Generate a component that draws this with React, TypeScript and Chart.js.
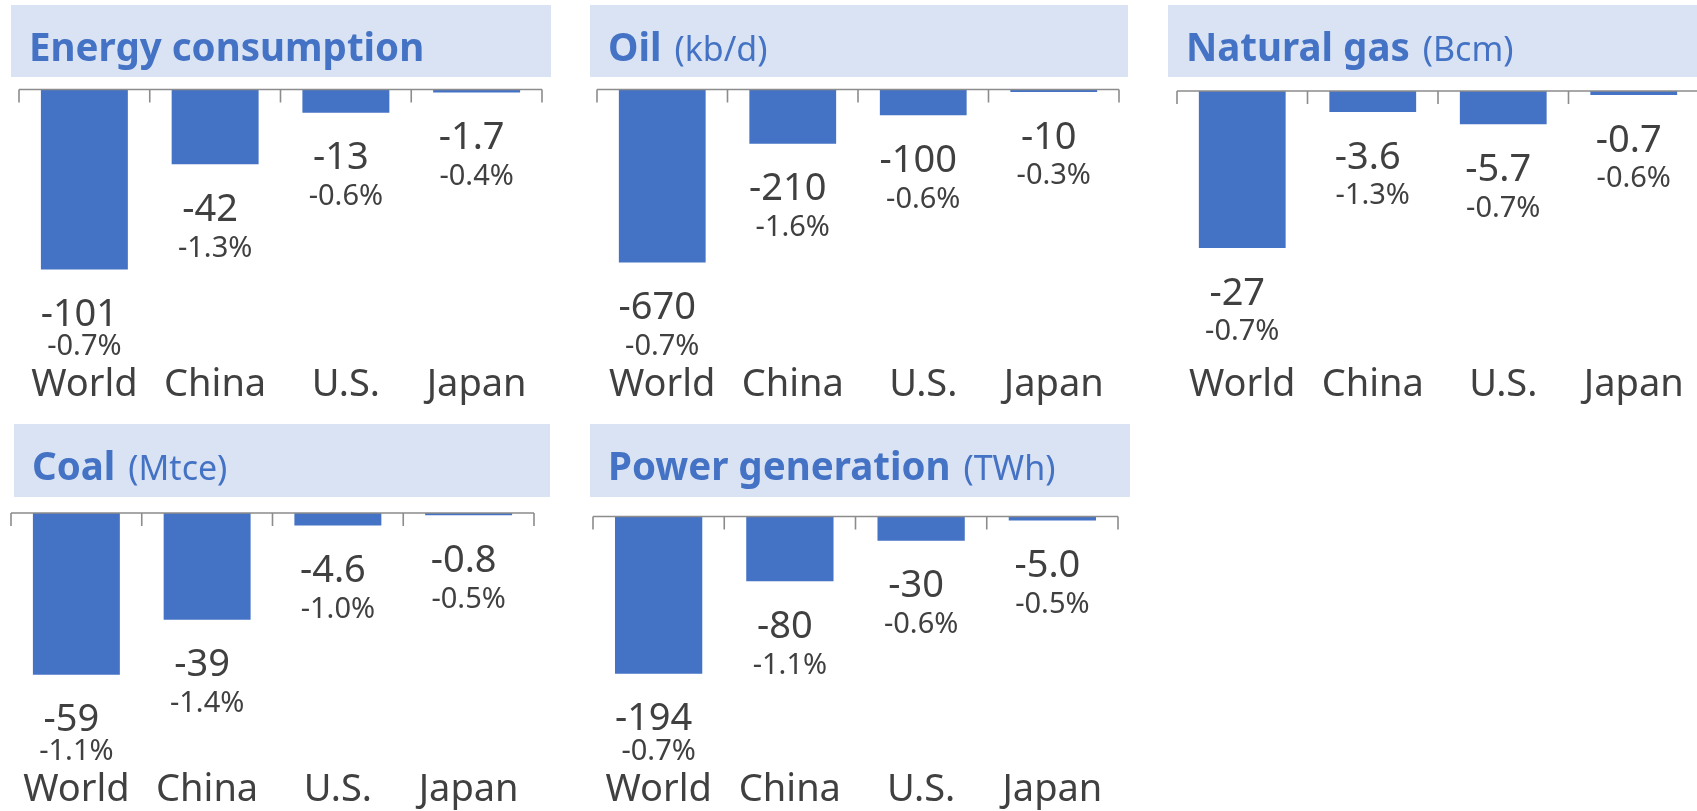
import React, { useEffect, useRef } from 'react';
import { Chart, registerables } from 'chart.js';

Chart.register(...registerables);

// ---------- data ----------
const categories = ['World', 'China', 'U.S.', 'Japan'];

const energyValues = [-101, -42, -13, -1.7];
const energyPct = [-0.7, -1.3, -0.6, -0.4];

const oilValues = [-670, -210, -100, -10];
const oilPct = [-0.7, -1.6, -0.6, -0.3];

const gasValues = [-27, -3.6, -5.7, -0.7];
const gasPct = [-0.7, -1.3, -0.7, -0.6];

const coalValues = [-59, -39, -4.6, -0.8];
const coalPct = [-1.1, -1.4, -1.0, -0.5];

const powerValues = [-194, -80, -30, -5.0];
const powerPct = [-0.7, -1.1, -0.6, -0.5];

const panelTitles = ['Energy consumption', 'Oil', 'Natural gas', 'Coal', 'Power generation'];
const panelUnits = ['', '(kb/d)', '(Bcm)', '(Mtce)', '(TWh)'];
const axisMin = [-153, -1056, -46.6, -92.7, -309];

// ---------- layout (page pixels) ----------
type Layout = {
  boxL: number; boxT: number; boxR: number; boxB: number;
  axisL: number; axisR: number; axisY: number; labelC: number;
};
const layouts: Layout[] = [
  { boxL: 11, boxT: 5, boxR: 551, boxB: 77, axisL: 19, axisR: 542, axisY: 89.5, labelC: 384 },
  { boxL: 590, boxT: 5, boxR: 1128, boxB: 77, axisL: 597, axisR: 1119, axisY: 89.5, labelC: 384 },
  { boxL: 1168, boxT: 5, boxR: 1712, boxB: 77, axisL: 1177, axisR: 1699, axisY: 91, labelC: 384 },
  { boxL: 14, boxT: 424, boxR: 550, boxB: 497, axisL: 11, axisR: 534, axisY: 513, labelC: 789 },
  { boxL: 590, boxT: 424, boxR: 1130, boxB: 497, axisL: 593, axisR: 1118, axisY: 516.5, labelC: 789 },
];

const BAR = '#4472C4';
const BOX = '#DAE3F3';
const TEXT = '#404040';
const AXIS = '#8C8C8C';
const FONT = '"Noto Sans", "Open Sans", sans-serif';

const VALUE_SIZE = 38;
const PCT_SIZE = 29;

const fmtValue = (v: number) => (Math.abs(v) < 10 ? v.toFixed(1) : v.toFixed(0));
const fmtPct = (v: number) => v.toFixed(1) + '%';

const decorPlugin = {
  id: 'decor',
  beforeDraw(chart: any, _args: any, opts: any) {
    const { ctx } = chart;
    const b = opts.box;
    ctx.save();
    ctx.fillStyle = BOX;
    ctx.fillRect(b.x, b.y, b.w, b.h);
    ctx.fillStyle = BAR;
    ctx.textAlign = 'left';
    ctx.textBaseline = 'alphabetic';
    ctx.font = `bold 38.5px ${FONT}`;
    const tx = b.x + 18;
    const ty = b.y + 55.5;
    ctx.fillText(opts.title, tx, ty);
    if (opts.unit) {
      const w = ctx.measureText(opts.title).width;
      ctx.font = `34px ${FONT}`;
      ctx.fillText(opts.unit, tx + w + 13, ty);
    }
    ctx.restore();
  },
  afterDatasetsDraw(chart: any, _args: any, opts: any) {
    const { ctx } = chart;
    const xs = chart.scales.x;
    const ys = chart.scales.y;
    const n = chart.data.labels.length;
    const y0 = ys.getPixelForValue(0);
    const half = (xs.getPixelForValue(1) - xs.getPixelForValue(0)) / 2;
    const left = xs.getPixelForValue(0) - half;
    const right = xs.getPixelForValue(n - 1) + half;
    ctx.save();
    ctx.strokeStyle = AXIS;
    ctx.lineWidth = 1.6;
    ctx.beginPath();
    ctx.moveTo(left, y0);
    ctx.lineTo(right, y0);
    for (let i = 0; i <= n; i++) {
      const t = left + i * 2 * half;
      ctx.moveTo(t, y0);
      ctx.lineTo(t, y0 + 13);
    }
    ctx.stroke();

    const meta = chart.getDatasetMeta(0);
    const vals = chart.data.datasets[0].data;
    const labelTop = xs.top + 22.8 - 40; // keep data labels clear of category labels
    ctx.fillStyle = TEXT;
    ctx.textAlign = 'center';
    ctx.textBaseline = 'alphabetic';
    meta.data.forEach((bar: any, i: number) => {
      let vc = bar.y + 43;
      let pc = vc + 39;
      if (pc > labelTop) {
        pc = labelTop;
        vc = Math.min(vc, pc - 32);
      }
      ctx.font = `${VALUE_SIZE}px ${FONT}`;
      ctx.fillText(fmtValue(vals[i]), bar.x - 5, vc + 0.357 * VALUE_SIZE);
      ctx.font = `${PCT_SIZE}px ${FONT}`;
      ctx.fillText(fmtPct(opts.pct[i]), bar.x, pc + 0.357 * PCT_SIZE);
    });
    ctx.restore();
  },
};

const seriesValues = [energyValues, oilValues, gasValues, coalValues, powerValues];
const seriesPct = [energyPct, oilPct, gasPct, coalPct, powerPct];

function Panel({ idx }: { idx: number }) {
  const ref = useRef<HTMLCanvasElement | null>(null);
  const L = layouts[idx];
  const canvasL = Math.floor(Math.min(L.boxL, L.axisL)) - 2;
  const canvasR = Math.ceil(Math.max(L.boxR, L.axisR)) + 2;
  const canvasT = L.boxT;
  const areaBottom = L.labelC - 22;
  const canvasB = areaBottom + 44;
  const W = canvasR - canvasL;
  const H = canvasB - canvasT;

  useEffect(() => {
    if (!ref.current) return;
    const chart = new Chart(ref.current, {
      type: 'bar',
      data: {
        labels: categories,
        datasets: [
          {
            data: seriesValues[idx],
            backgroundColor: BAR,
            borderWidth: 0,
            barPercentage: 0.665,
            categoryPercentage: 1,
          },
        ],
      },
      options: {
        responsive: false,
        animation: false,
        events: [],
        layout: {
          padding: {
            top: L.axisY - canvasT,
            left: L.axisL - canvasL,
            right: canvasR - L.axisR,
            bottom: 0,
          },
        },
        plugins: {
          legend: { display: false },
          tooltip: { enabled: false },
          title: { display: false },
          decor: {
            box: { x: L.boxL - canvasL, y: 0, w: L.boxR - L.boxL, h: L.boxB - L.boxT },
            title: panelTitles[idx],
            unit: panelUnits[idx],
            pct: seriesPct[idx],
          },
        } as any,
        scales: {
          x: {
            grid: { display: false, drawTicks: false },
            border: { display: false },
            ticks: {
              color: TEXT,
              font: { family: FONT, size: 38 },
              padding: 0,
              maxRotation: 0,
              autoSkip: false,
            },
            afterFit: (s: any) => {
              s.height = 44;
            },
          },
          y: { display: false, min: axisMin[idx], max: 0 },
        },
      },
      plugins: [decorPlugin as any],
    });
    return () => chart.destroy();
  }, [idx]);

  return (
    <canvas
      ref={ref}
      width={W}
      height={H}
      style={{ position: 'absolute', left: canvasL, top: canvasT, width: W, height: H }}
    />
  );
}

export default function App() {
  return (
    <div
      style={{
        position: 'fixed',
        left: 0,
        top: 0,
        width: 1697,
        height: 811,
        overflow: 'hidden',
        background: '#ffffff',
      }}
    >
      {[0, 1, 2, 3, 4].map((i) => (
        <Panel key={i} idx={i} />
      ))}
    </div>
  );
}
